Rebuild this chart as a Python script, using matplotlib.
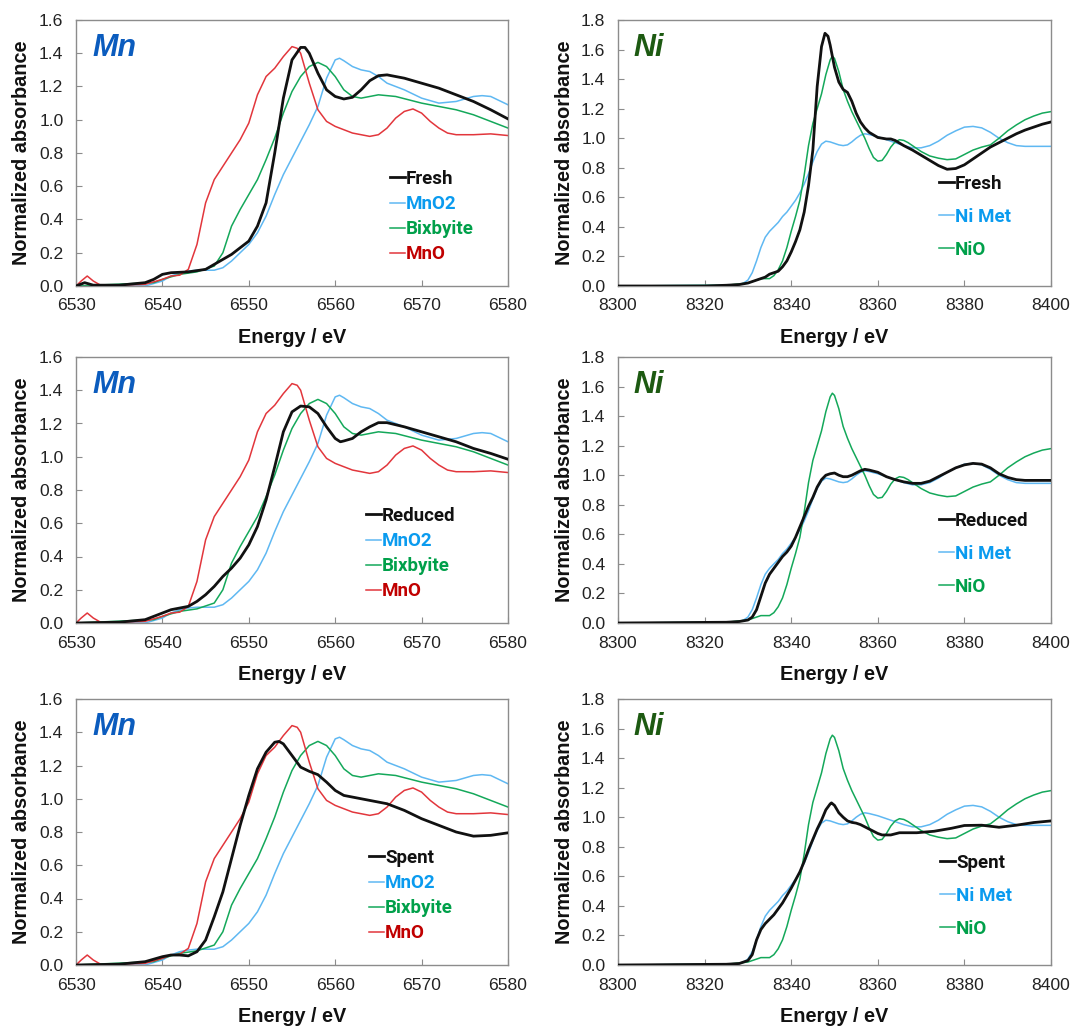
import matplotlib
matplotlib.use("Agg")
import matplotlib.pyplot as plt
from matplotlib.ticker import FormatStrFormatter, MultipleLocator

# ---------------- Mn K-edge data ----------------
mn_fresh_x = [6530, 6531, 6532, 6535, 6538, 6539, 6540, 6541, 6543, 6545, 6546, 6548, 6550, 6551, 6552, 6553,
              6554, 6555, 6556, 6556.5, 6557, 6558, 6559, 6560, 6561, 6562, 6563, 6564, 6565, 6566, 6568, 6570,
              6572, 6574, 6576, 6578, 6580]
mn_fresh_y = [0.0, 0.02, 0.005, 0.005, 0.02, 0.04, 0.07, 0.08, 0.085, 0.10, 0.13, 0.19, 0.27, 0.36, 0.50, 0.80,
              1.13, 1.36, 1.435, 1.435, 1.40, 1.28, 1.18, 1.14, 1.125, 1.135, 1.18, 1.235, 1.265, 1.27, 1.25, 1.22,
              1.19, 1.15, 1.11, 1.06, 1.005]

mn_reduced_x = [6530, 6535, 6538, 6540, 6541, 6542, 6543, 6544, 6545, 6546, 6547, 6548, 6549, 6550, 6551, 6552,
                6553, 6554, 6555, 6556, 6557, 6558, 6559, 6560, 6560.6, 6561, 6562, 6563, 6564, 6565, 6566, 6568,
                6570, 6572, 6574, 6576, 6578, 6580]
mn_reduced_y = [0.0, 0.005, 0.02, 0.06, 0.08, 0.09, 0.10, 0.13, 0.17, 0.22, 0.28, 0.33, 0.39, 0.47, 0.58, 0.74,
                0.94, 1.15, 1.27, 1.305, 1.30, 1.26, 1.18, 1.11, 1.09, 1.095, 1.11, 1.15, 1.18, 1.205, 1.205, 1.18,
                1.15, 1.12, 1.09, 1.05, 1.02, 0.985]

mn_spent_x = [6530, 6535, 6538, 6540, 6541, 6542, 6543, 6544, 6545, 6546, 6547, 6548, 6549, 6550, 6551, 6552,
              6553, 6553.5, 6554, 6555, 6556, 6557, 6558, 6559, 6560, 6561, 6562, 6564, 6566, 6568, 6570, 6572,
              6574, 6576, 6578, 6580]
mn_spent_y = [0.0, 0.005, 0.02, 0.05, 0.06, 0.06, 0.055, 0.08, 0.15, 0.29, 0.44, 0.64, 0.84, 1.02, 1.18, 1.28,
              1.34, 1.345, 1.33, 1.26, 1.19, 1.165, 1.145, 1.10, 1.05, 1.02, 1.01, 0.99, 0.97, 0.93, 0.88, 0.84,
              0.80, 0.775, 0.78, 0.795]

mno2_x = [6530, 6538, 6540, 6541, 6542, 6543, 6544, 6546, 6547, 6548, 6549, 6550, 6551, 6552, 6553, 6554, 6555,
          6556, 6557, 6558, 6559, 6560, 6560.5, 6561, 6562, 6563, 6564, 6565, 6566, 6568, 6570, 6572, 6574, 6576,
          6577, 6578, 6580]
mno2_y = [0.0, 0.0, 0.03, 0.06, 0.08, 0.09, 0.095, 0.095, 0.11, 0.15, 0.20, 0.25, 0.32, 0.42, 0.55, 0.67, 0.77,
          0.87, 0.97, 1.08, 1.25, 1.36, 1.37, 1.355, 1.32, 1.30, 1.29, 1.26, 1.22, 1.18, 1.13, 1.10, 1.11, 1.14,
          1.145, 1.14, 1.09]

bixbyite_x = [6530, 6539, 6540, 6542, 6544, 6546, 6547, 6548, 6549, 6550, 6551, 6552, 6553, 6554, 6555, 6556,
              6557, 6558, 6559, 6560, 6561, 6562, 6563, 6565, 6567, 6570, 6572, 6574, 6576, 6578, 6580]
bixbyite_y = [0.0, 0.02, 0.04, 0.07, 0.085, 0.12, 0.20, 0.36, 0.46, 0.55, 0.64, 0.76, 0.89, 1.04, 1.17, 1.26,
              1.32, 1.345, 1.32, 1.26, 1.18, 1.14, 1.13, 1.15, 1.14, 1.10, 1.08, 1.06, 1.03, 0.99, 0.95]

mno_x = [6530, 6530.6, 6531.3, 6532, 6533, 6535, 6538, 6540, 6541, 6542, 6543, 6544, 6545, 6546, 6547, 6548,
         6549, 6550, 6551, 6552, 6553, 6554, 6555, 6555.6, 6556, 6557, 6558, 6559, 6560, 6561, 6562, 6564, 6565,
         6566, 6567, 6568, 6569, 6570, 6571, 6572, 6573, 6574, 6576, 6578, 6580]
mno_y = [0.0, 0.03, 0.06, 0.03, 0.0, 0.005, 0.01, 0.04, 0.06, 0.065, 0.10, 0.25, 0.50, 0.64, 0.72, 0.80,
         0.88, 0.98, 1.15, 1.26, 1.31, 1.38, 1.44, 1.43, 1.40, 1.22, 1.06, 0.99, 0.96, 0.94, 0.92, 0.90, 0.91,
         0.95, 1.01, 1.05, 1.065, 1.04, 0.99, 0.95, 0.92, 0.91, 0.91, 0.915, 0.905]

# ---------------- Ni K-edge data ----------------
ni_fresh_x = [8300, 8320, 8325, 8328, 8330, 8332, 8334, 8335, 8336, 8337, 8338, 8339, 8340, 8341, 8342, 8343,
              8344, 8345, 8346, 8347, 8347.8, 8348.5, 8349, 8350, 8351, 8352, 8353, 8354, 8355, 8356, 8357, 8358,
              8360, 8362, 8363, 8364, 8366, 8368, 8370, 8372, 8374, 8376, 8378, 8380, 8382, 8384, 8386, 8388,
              8390, 8392, 8394, 8396, 8398, 8400]
ni_fresh_y = [0.0, 0.0, 0.005, 0.01, 0.02, 0.04, 0.06, 0.08, 0.09, 0.10, 0.13, 0.17, 0.23, 0.30, 0.38, 0.50,
              0.68, 0.92, 1.35, 1.62, 1.71, 1.69, 1.63, 1.48, 1.38, 1.33, 1.31, 1.25, 1.17, 1.11, 1.07, 1.04,
              1.005, 0.995, 0.995, 0.985, 0.95, 0.92, 0.885, 0.85, 0.815, 0.79, 0.795, 0.82, 0.86, 0.90, 0.94, 0.97,
              1.0, 1.03, 1.055, 1.075, 1.095, 1.11]

ni_reduced_x = [8300, 8325, 8328, 8330, 8331, 8332, 8333, 8334, 8335, 8336, 8337, 8338, 8339, 8340, 8341, 8342,
                8343, 8344, 8345, 8346, 8347, 8348, 8349, 8350, 8351, 8352, 8353, 8354, 8355, 8356, 8357, 8358,
                8360, 8362, 8364, 8366, 8368, 8370, 8372, 8374, 8376, 8378, 8380, 8382, 8384, 8386, 8388, 8390,
                8392, 8394, 8396, 8400]
ni_reduced_y = [0.0, 0.005, 0.01, 0.02, 0.04, 0.09, 0.18, 0.27, 0.33, 0.37, 0.41, 0.45, 0.48, 0.52, 0.58, 0.65,
                0.72, 0.79, 0.85, 0.92, 0.97, 1.0, 1.01, 1.015, 1.0, 0.99, 0.99, 1.0, 1.015, 1.03, 1.04, 1.035,
                1.02, 0.99, 0.97, 0.955, 0.945, 0.945, 0.96, 0.99, 1.02, 1.05, 1.07, 1.08, 1.075, 1.05, 1.01, 0.985,
                0.97, 0.965, 0.965, 0.965]

ni_spent_x = [8300, 8325, 8328, 8330, 8331, 8332, 8333, 8334, 8335, 8336, 8338, 8340, 8342, 8343, 8344, 8345,
              8346, 8347, 8348, 8349, 8349.3, 8350, 8351, 8352, 8353, 8354, 8355, 8356, 8358, 8360, 8361, 8362,
              8363, 8365, 8369, 8373, 8377, 8380, 8384, 8388, 8392, 8396, 8400]
ni_spent_y = [0.0, 0.005, 0.01, 0.03, 0.07, 0.17, 0.24, 0.28, 0.31, 0.34, 0.42, 0.52, 0.63, 0.70, 0.78, 0.85,
              0.92, 0.98, 1.05, 1.09, 1.097, 1.08, 1.03, 1.0, 0.975, 0.965, 0.96, 0.95, 0.92, 0.89, 0.88, 0.88,
              0.88, 0.895, 0.895, 0.905, 0.925, 0.944, 0.946, 0.932, 0.946, 0.964, 0.975]

ni_met_x = [8300, 8325, 8328, 8329, 8330, 8331, 8332, 8333, 8334, 8335, 8336, 8337, 8338, 8339, 8340, 8341, 8342,
            8343, 8344, 8345, 8346, 8347, 8348, 8349, 8350, 8351, 8352, 8353, 8354, 8355, 8356, 8357, 8358, 8360,
            8362, 8364, 8366, 8368, 8370, 8372, 8374, 8376, 8378, 8380, 8382, 8384, 8386, 8388, 8390, 8392, 8394,
            8396, 8400]
ni_met_y = [0.0, 0.005, 0.01, 0.02, 0.04, 0.09, 0.17, 0.26, 0.33, 0.37, 0.40, 0.43, 0.47, 0.50, 0.54, 0.58, 0.63,
            0.69, 0.76, 0.84, 0.91, 0.96, 0.98, 0.975, 0.965, 0.955, 0.95, 0.955, 0.975, 1.0, 1.02, 1.03, 1.025,
            1.01, 0.99, 0.97, 0.95, 0.935, 0.935, 0.95, 0.98, 1.02, 1.05, 1.075, 1.08, 1.07, 1.04, 1.0, 0.97, 0.95,
            0.945, 0.945, 0.945]

nio_x = [8300, 8325, 8330, 8332, 8333, 8334, 8335, 8336, 8337, 8338, 8339, 8340, 8341, 8342, 8343, 8344, 8345,
         8346, 8347, 8348, 8349, 8349.5, 8350, 8351, 8352, 8353, 8354, 8355, 8356, 8357, 8358, 8359, 8360, 8361,
         8362, 8363, 8364, 8365, 8366, 8367, 8368, 8370, 8372, 8374, 8376, 8378, 8380, 8382, 8384, 8386, 8388,
         8390, 8392, 8394, 8396, 8398, 8400]
nio_y = [0.0, 0.005, 0.02, 0.04, 0.05, 0.05, 0.05, 0.07, 0.11, 0.17, 0.26, 0.37, 0.47, 0.58, 0.75, 0.95, 1.10,
         1.20, 1.30, 1.43, 1.53, 1.555, 1.54, 1.45, 1.33, 1.25, 1.18, 1.12, 1.06, 1.0, 0.93, 0.87, 0.845, 0.85,
         0.89, 0.94, 0.975, 0.99, 0.985, 0.97, 0.95, 0.91, 0.88, 0.865, 0.855, 0.86, 0.89, 0.92, 0.94, 0.955, 1.0,
         1.05, 1.09, 1.125, 1.15, 1.17, 1.18]

sample_labels = ["Fresh", "Reduced", "Spent"]
mn_samples = [(mn_fresh_x, mn_fresh_y), (mn_reduced_x, mn_reduced_y), (mn_spent_x, mn_spent_y)]
ni_samples = [(ni_fresh_x, ni_fresh_y), (ni_reduced_x, ni_reduced_y), (ni_spent_x, ni_spent_y)]
mn_ref_labels = ["MnO2", "Bixbyite", "MnO"]
mn_refs = [(mno2_x, mno2_y), (bixbyite_x, bixbyite_y), (mno_x, mno_y)]
ni_ref_labels = ["Ni Met", "NiO"]
ni_refs = [(ni_met_x, ni_met_y), (nio_x, nio_y)]

# ---------------- styling ----------------
plt.rcParams['font.family'] = ['Liberation Sans', 'DejaVu Sans']
BLACK = '#111111'
BLUE_LINE = '#5FB8F2'
GREEN_LINE = '#14A85A'
RED_LINE = '#E2363C'
BLUE_TXT = '#0A9BEF'
GREEN_TXT = '#00A04A'
RED_TXT = '#C00000'
SPINE = '#8C8C8C'

mn_ref_colors = [BLUE_LINE, GREEN_LINE, RED_LINE]
mn_ref_tcolors = [BLUE_TXT, GREEN_TXT, RED_TXT]
ni_ref_colors = [BLUE_LINE, GREEN_LINE]
ni_ref_tcolors = [BLUE_TXT, GREEN_TXT]

W, H = 1070, 1027
fig = plt.figure(figsize=(W / 100, H / 100), dpi=100)

row_tops = [20, 357, 699]
row_h = 266
mn_left, mn_w = 76, 432
ni_left, ni_w = 618, 433

mn_leg_x = [390, 366, 369]
ni_leg_x = [939, 939, 940]


def style_axes(ax, xlim, ylim, xstep, w_px):
    ax.set_xlim(*xlim)
    ax.set_ylim(*ylim)
    ax.xaxis.set_major_locator(MultipleLocator(xstep))
    ax.yaxis.set_major_locator(MultipleLocator(0.2))
    ax.yaxis.set_major_formatter(FormatStrFormatter('%.1f'))
    ax.xaxis.set_major_formatter(FormatStrFormatter('%d'))
    for s in ax.spines.values():
        s.set_color(SPINE)
        s.set_linewidth(1.0)
    ax.tick_params(axis='both', direction='in', length=4, width=0.8, color=SPINE,
                   labelsize=12.6, labelcolor='#222222')
    ax.tick_params(axis='x', pad=9)
    ax.tick_params(axis='y', pad=9)
    ax.set_xlabel('Energy / eV', fontsize=14.3, fontweight='bold', color='#111111', va='center')
    ax.xaxis.set_label_coords(0.5, -52 / row_h)
    ax.set_ylabel('Normalized absorbance', fontsize=14.3, fontweight='bold', color='#111111', va='center')
    ax.yaxis.set_label_coords(-54 / w_px, 0.5)


def add_legend(ax, handles, labels, tcolors, x_px_rel, w_px, spacing, top_px):
    leg = ax.legend(handles, labels, loc='upper left',
                    bbox_to_anchor=(x_px_rel / w_px, 1 - top_px / row_h),
                    frameon=False, handlelength=0.8, handletextpad=0.05,
                    borderpad=0, borderaxespad=0, labelspacing=spacing,
                    prop={'family': 'Roboto', 'weight': 'bold', 'size': 13.5})
    for t, c in zip(leg.get_texts(), tcolors):
        t.set_color(c)


for r in range(3):
    top = row_tops[r]
    bottom_frac = 1 - (top + row_h) / H
    h_frac = row_h / H

    # ---- Mn panel ----
    ax = fig.add_axes([mn_left / W, bottom_frac, mn_w / W, h_frac])
    hs = []
    sx, sy = mn_samples[r]
    for (rx, ry), c in zip(mn_refs, mn_ref_colors):
        hs.append(ax.plot(rx, ry, color=c, lw=1.1, solid_joinstyle='round')[0])
    hsample = ax.plot(sx, sy, color=BLACK, lw=2.0, solid_joinstyle='round', zorder=5)[0]
    style_axes(ax, (6530, 6580), (0, 1.6), 10, mn_w)
    ax.text(0.037, 0.895, 'Mn', transform=ax.transAxes, fontsize=22, fontweight='bold',
            fontstyle='italic', color='#0B5CBE', va='center', ha='left', family='Liberation Sans')
    add_legend(ax, [hsample] + hs, [sample_labels[r]] + mn_ref_labels,
               [BLACK] + mn_ref_tcolors, mn_leg_x[r] - mn_left, mn_w, 0.38, 150)

    # ---- Ni panel ----
    ax = fig.add_axes([ni_left / W, bottom_frac, ni_w / W, h_frac])
    hs = []
    sx, sy = ni_samples[r]
    for (rx, ry), c in zip(ni_refs, ni_ref_colors):
        hs.append(ax.plot(rx, ry, color=c, lw=1.1, solid_joinstyle='round')[0])
    hsample = ax.plot(sx, sy, color=BLACK, lw=2.0, solid_joinstyle='round', zorder=5)[0]
    style_axes(ax, (8300, 8400), (0, 1.8), 20, ni_w)
    ax.text(0.035, 0.895, 'Ni', transform=ax.transAxes, fontsize=22, fontweight='bold',
            fontstyle='italic', color='#1D5A12', va='center', ha='left', family='Liberation Sans')
    add_legend(ax, [hsample] + hs, [sample_labels[r]] + ni_ref_labels,
               [BLACK] + ni_ref_tcolors, ni_leg_x[r] - ni_left, ni_w, 0.8, 155)

fig.savefig('out.png', dpi=100)
